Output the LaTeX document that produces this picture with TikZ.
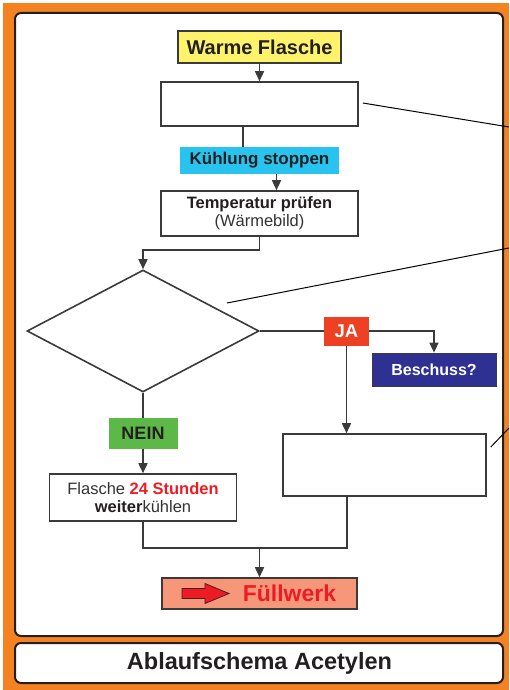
\documentclass[tikz,border=0pt]{standalone}
\usepackage{fontspec}
\setmainfont{Liberation Sans}
\usetikzlibrary{arrows.meta,shapes.geometric,calc}
\definecolor{orng}{HTML}{F58220}
\definecolor{ink}{HTML}{231F20}
\definecolor{edge}{HTML}{3A3A3A}
\definecolor{yel}{HTML}{FFF36B}
\definecolor{cyn}{HTML}{29C3EF}
\definecolor{jared}{HTML}{EE4123}
\definecolor{navy}{HTML}{2E3192}
\definecolor{grn}{HTML}{5DB947}
\definecolor{salmon}{HTML}{F7977A}
\definecolor{txtred}{HTML}{ED1C24}
\definecolor{greytxt}{HTML}{333333}
\tikzset{
  panel/.style={draw=ink, line width=2pt, fill=white, rounded corners=6pt},
  box/.style={draw=edge, line width=1.6pt, fill=white, inner sep=0pt, text=ink, align=center},
  tag/.style={inner sep=0pt, font=\bfseries, align=center},
  conn/.style={draw=edge, line width=1.6pt},
  arr/.style={conn, -{Triangle[length=10pt,width=9pt]}},
  callout/.style={draw=black, line width=1pt}
}
\begin{document}
\begin{tikzpicture}[x=1pt,y=-1pt]
\useasboundingbox (0,0) rectangle (509,690);
\fill[white] (0,0) rectangle (509,690);
\fill[orng] (3,3) rectangle (509,690);
\draw[panel] (15,13) rectangle (503,636);
\draw[panel] (15,643) rectangle (503,683);

% nodes
\node[box, fill=yel, minimum width=163pt, minimum height=32pt, font=\fontsize{20}{22}\selectfont\bfseries] (wf) at (259.5,47) {Warme Flasche};
\node[box, minimum width=197pt, minimum height=44pt] (b1) at (259.5,104) {};
\node[tag, fill=cyn, text=ink, minimum width=159pt, minimum height=27pt, font=\fontsize{17}{19}\selectfont\bfseries] (ks) at (259.5,160.5) {Kühlung stoppen};
\node[box, minimum width=197pt, minimum height=45pt, font=\fontsize{16.5}{18}\selectfont] (tp) at (259.5,213.5) {\textbf{Temperatur prüfen}\\\textcolor{greytxt}{(Wärmebild)}};
\node[draw=edge, line width=1.6pt, fill=white, diamond, inner sep=0pt, minimum width=232pt, minimum height=122pt] (dia) at (143,331) {};
\node[tag, fill=jared, text=white, minimum width=45pt, minimum height=29pt, font=\fontsize{18.5}{20}\selectfont\bfseries] (ja) at (346.5,331) {JA};
\node[tag, fill=navy, draw=edge, line width=0.8pt, text=white, minimum width=124pt, minimum height=33pt, font=\fontsize{16}{18}\selectfont\bfseries] (be) at (434,369.5) {Beschuss?};
\node[box, minimum width=203pt, minimum height=62pt] (b2) at (384.5,465) {};
\node[tag, fill=grn, text=ink, minimum width=69pt, minimum height=31pt, font=\fontsize{18}{20}\selectfont\bfseries] (nein) at (143,433.5) {NEIN};
\node[box, minimum width=187pt, minimum height=47pt, font=\fontsize{16.5}{18}\selectfont] (fl) at (143,497.5) {\textcolor{greytxt}{Flasche} \textcolor{txtred}{\textbf{24 Stunden}}\\\textbf{weiter}\textcolor{greytxt}{kühlen}};
\node[box, fill=salmon, minimum width=195pt, minimum height=31pt, font=\fontsize{23}{25}\selectfont\bfseries, text=txtred] (fw) at (259.5,593.5) {\hspace*{60pt}Füllwerk};
\node[tag, text=ink, font=\fontsize{23.5}{25}\selectfont\bfseries] (title) at (259.5,663) {Ablaufschema Acetylen};

% block arrow in Füllwerk
\draw[fill=txtred, draw=ink!80!txtred, line width=0.8pt]
  ($(fw.center)+(-77.5,-5)$) -- ($(fw.center)+(-54.5,-5)$) -- ($(fw.center)+(-54.5,-10)$)
  -- ($(fw.center)+(-30.5,0)$) -- ($(fw.center)+(-54.5,10)$) -- ($(fw.center)+(-54.5,5)$)
  -- ($(fw.center)+(-77.5,5)$) -- cycle;

% coordinates
\coordinate (j1) at (143,250);
\coordinate (j2) at (347,548);
\coordinate (c1) at (509,127);
\coordinate (c2) at (509,248);
\coordinate (c3) at (509,428);

% connectors
\draw[arr] (wf.south) -- (b1.north);
\draw[conn] ([xshift=-16.5pt]b1.south) -- ([xshift=-16.5pt]b1.south |- ks.north);
\draw[arr] ([xshift=17pt]ks.south) -- ([xshift=17pt]ks.south |- tp.north);
\draw[arr] (tp.south) |- (j1) -- (dia.north);
\draw[conn] (dia.east) -- (ja.west);
\draw[arr] (ja.east) -| (be.north);
\draw[arr] (ja.south) -- (ja.south |- b2.north);
\draw[conn] (dia.south) -- (nein.north);
\draw[arr] (nein.south) -- (fl.north);
\draw[conn] (fl.south) |- (j2) -- (j2 |- b2.south);
\draw[arr] (fw.north |- j2) -- (fw.north);

% callout lines
\draw[callout] ([xshift=4pt,yshift=1pt]b1.east) -- (c1);
\draw[callout] ([xshift=84pt,yshift=28pt]dia.center) -- (c2);
\draw[callout] ([xshift=4pt,yshift=18pt]b2.east) -- (c3);
\end{tikzpicture}
\end{document}
